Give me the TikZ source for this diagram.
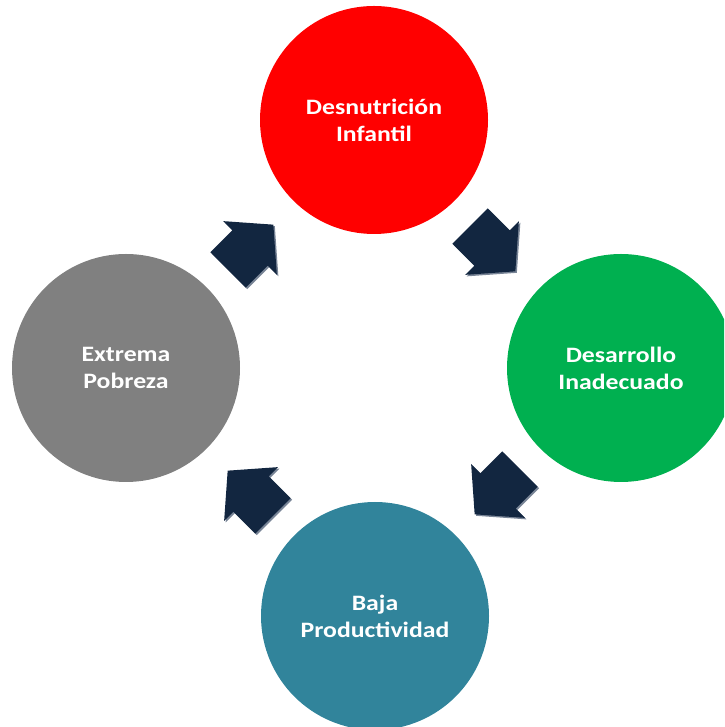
\documentclass[tikz,border=0pt]{standalone}
\usepackage{fontspec}
\newfontfamily\lblfont{Carlito}[FakeStretch=1.17]
\definecolor{cred}{RGB}{255,0,0}
\definecolor{cgreen}{RGB}{0,176,80}
\definecolor{cteal}{RGB}{49,132,155}
\definecolor{cgray}{RGB}{128,128,128}
\definecolor{arrcol}{RGB}{18,38,64}
\definecolor{arrshadow}{RGB}{120,132,150}
\begin{document}
\begin{tikzpicture}[x=1pt,y=1pt,
  circ/.style={circle, minimum size=228pt, inner sep=0pt, text=white,
    font=\lblfont\bfseries\fontsize{22}{27}\selectfont, align=center},
  barrow/.pic={\fill[pic actions] (-31,-25) -- (0,-25) -- (0,-38) -- (33,0) -- (0,38) -- (0,25) -- (-31,25) -- cycle;}]
\useasboundingbox (0,0) rectangle (724,727);
\clip (0,0) rectangle (724,727);
\node[circ, fill=cred]   (desn) at (374,607) {Desnutrición\\Infantil};
\node[circ, fill=cgreen] (desa) at (621,359) {Desarrollo\\Inadecuado};
\node[circ, fill=cteal]  (baja) at (375,111) {Baja\\Productividad};
\node[circ, fill=cgray]  (extr) at (126,359) {Extrema\\Pobreza};
% arrows (shadow then body)
\foreach \x/\y/\a in {250/479/45, 492/479/-45, 498/236/-135, 251/233/135}{
  \pic[fill=arrshadow, rotate=\a] at (\x+1.5,\y-1.5) {barrow};
  \pic[fill=arrcol, rotate=\a] at (\x,\y) {barrow};
}
\end{tikzpicture}
\end{document}
